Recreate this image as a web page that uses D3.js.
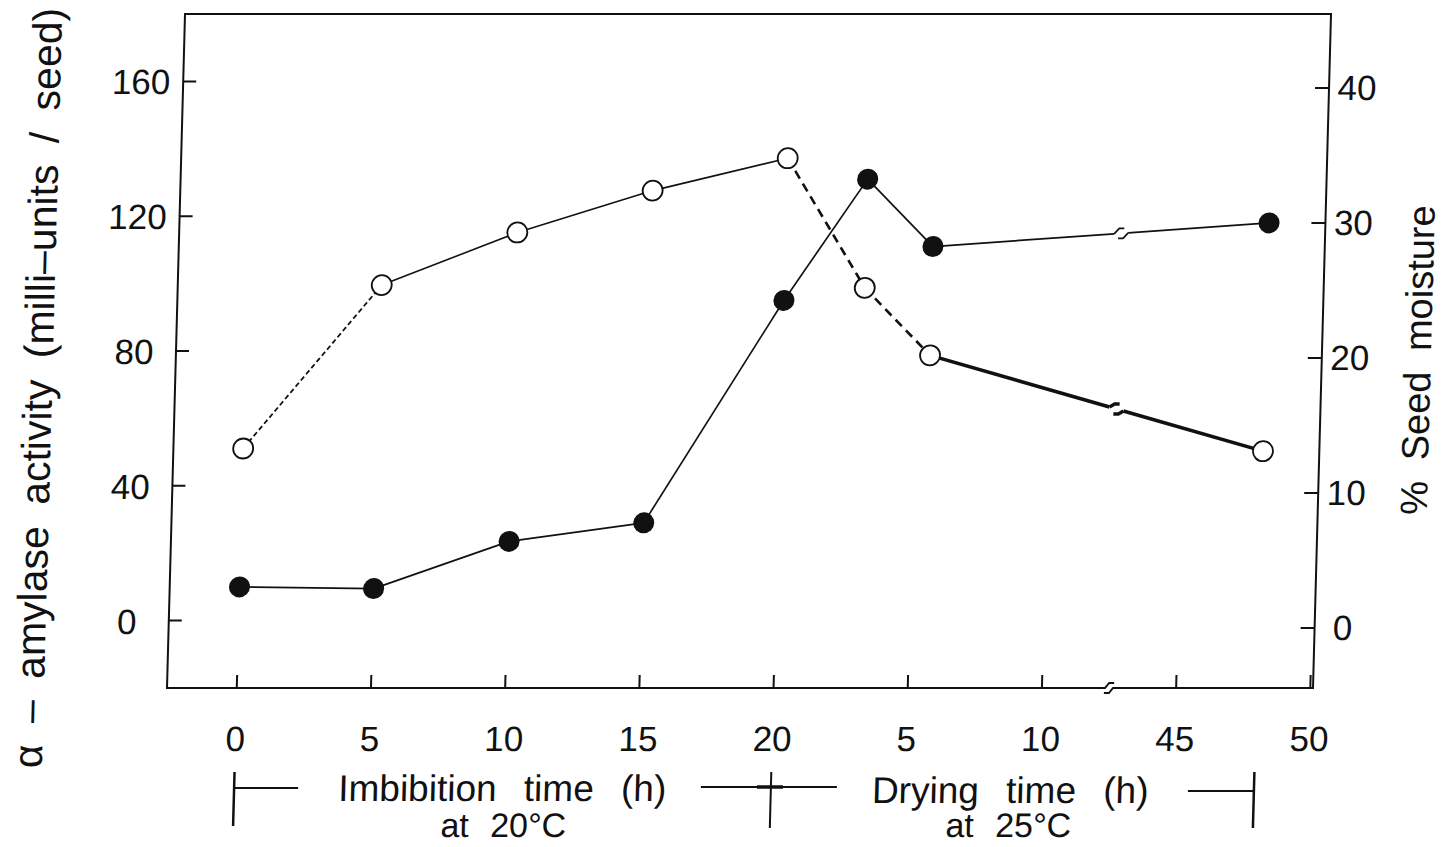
<!DOCTYPE html>
<head>
  <meta charset="utf-8">
  <script src="https://d3js.org/d3.v7.min.js"></script>
  <style>
    body { margin: 0; background: #fff; }
    text { font-family: "Liberation Sans", Arial, sans-serif; fill: #111; }
    .tick-label { font-size: 35px; }
    .title { font-size: 41px; word-spacing: 10px; }
    .rtitle { font-size: 38px; word-spacing: 10px; }
    .sub { font-size: 37px; word-spacing: 17px; }
    .sub2 { font-size: 34px; word-spacing: 12px; }
  </style>
</head>
<body>
  <div id="chart"></div>
  <script>
    // x tick labels: imbibition hours then drying hours (axis broken between 10 and 45)
    var xTickLabels = ["0", "5", "10", "15", "20", "5", "10", "45", "50"];
    var leftTicks = [0, 40, 80, 120, 160];
    var rightTicks = [0, 10, 20, 30, 40];

    // alpha-amylase activity (filled circles, left axis)
    var amylasePhase = ["imb", "imb", "imb", "imb", "imb", "dry", "dry", "dry"];
    var amylaseHours = [0, 5, 10, 15, 20, 3, 5.5, 48];
    var amylaseValues = [10, 9.5, 23.5, 29, 95, 131, 111, 118];

    // seed moisture % (open circles, right axis)
    var moisturePhase = ["imb", "imb", "imb", "imb", "imb", "dry", "dry", "dry"];
    var moistureHours = [0, 5, 10, 15, 20, 3, 5.5, 48];
    var moistureValues = [13.3, 25.4, 29.3, 32.4, 34.8, 25.2, 20.2, 13.1];

    var breakPos = 6.5;

    // hours -> position on the broken axis
    function toPos(phase, h) {
      if (phase == "imb") return h / 5;
      if (h <= 10) return 4 + h / 5;
      return 7 + (h - 45) / 5;
    }

    var W = 1443, H = 847,
        plotL = 167, plotR = 1313, plotT = 14, plotB = 688;

    var x = d3.scaleLinear().domain([-0.52, 8.02]).range([plotL, plotR]);
    var yL = d3.scaleLinear().domain([-20, 180]).range([plotB, plotT]);
    var yR = d3.scaleLinear().domain([-4.44, 45.48]).range([plotB, plotT]);

    var svg = d3.select("#chart").append("svg")
      .attr("width", W)
      .attr("height", H);

    // the scanned figure leans a little to the right
    var g = svg.append("g")
      .attr("transform", "translate(0," + plotB + ") skewX(-1.53) translate(0," + (-plotB) + ")");

    // frame
    g.append("rect")
      .attr("x", plotL).attr("y", plotT)
      .attr("width", plotR - plotL).attr("height", plotB - plotT)
      .attr("fill", "none").attr("stroke", "#111").attr("stroke-width", 2);

    // bottom ticks
    g.selectAll(".xt")
        .data(xTickLabels)
      .enter().append("line")
        .attr("x1", function(d, i) { return x(i); })
        .attr("x2", function(d, i) { return x(i); })
        .attr("y1", plotB).attr("y2", plotB - 13)
        .attr("stroke", "#111").attr("stroke-width", 2);

    g.selectAll(".xl")
        .data(xTickLabels)
      .enter().append("text")
        .attr("class", "tick-label")
        .attr("x", function(d, i) { return x(i); })
        .attr("y", 751)
        .attr("text-anchor", "middle")
        .text(function(d) { return d; });

    // left ticks
    g.selectAll(".lt")
        .data(leftTicks)
      .enter().append("line")
        .attr("x1", plotL).attr("x2", plotL + 13)
        .attr("y1", function(d) { return yL(d); })
        .attr("y2", function(d) { return yL(d); })
        .attr("stroke", "#111").attr("stroke-width", 2);

    g.selectAll(".ll")
        .data(leftTicks)
      .enter().append("text")
        .attr("class", "tick-label")
        .attr("x", 125)
        .attr("y", function(d) { return yL(d) + 13; })
        .attr("text-anchor", "middle")
        .text(function(d) { return d; });

    // right ticks
    g.selectAll(".rt")
        .data(rightTicks)
      .enter().append("line")
        .attr("x1", plotR).attr("x2", plotR - 14)
        .attr("y1", function(d) { return yR(d); })
        .attr("y2", function(d) { return yR(d); })
        .attr("stroke", "#111").attr("stroke-width", 2);

    g.selectAll(".rl")
        .data(rightTicks)
      .enter().append("text")
        .attr("class", "tick-label")
        .attr("x", 1341)
        .attr("y", function(d) { return yR(d) + 12; })
        .attr("text-anchor", "middle")
        .text(function(d) { return d; });

    // axis break on the x axis
    function breakMark(bx, by) {
      g.append("rect")
        .attr("x", bx - 6).attr("y", by - 3)
        .attr("width", 12).attr("height", 6)
        .attr("fill", "#fff");
      g.append("path")
        .attr("d", "M" + (bx - 10) + "," + by + "L" + (bx - 4) + "," + by +
                   "L" + bx + "," + (by - 5) + "L" + (bx + 5) + "," + (by - 5))
        .attr("fill", "none").attr("stroke", "#111").attr("stroke-width", 2);
      g.append("path")
        .attr("d", "M" + (bx - 5) + "," + (by + 5) + "L" + bx + "," + (by + 5) +
                   "L" + (bx + 4) + "," + by + "L" + (bx + 10) + "," + by)
        .attr("fill", "none").attr("stroke", "#111").attr("stroke-width", 2);
    }
    breakMark(x(breakPos), plotB);

    // build point lists
    var amylase = amylaseValues.map(function(v, i) {
      return { px: x(toPos(amylasePhase[i], amylaseHours[i])), py: yL(v) };
    });
    var moisture = moistureValues.map(function(v, i) {
      return { px: x(toPos(moisturePhase[i], moistureHours[i])), py: yR(v) };
    });

    function segment(a, b, width, dash) {
      var bx = x(breakPos);
      if (a.px < bx && b.px > bx) {
        var t = (bx - a.px) / (b.px - a.px),
            by = a.py + t * (b.py - a.py);
        var gap = 7;
        var t1 = (bx - gap - a.px) / (b.px - a.px),
            t2 = (bx + gap - a.px) / (b.px - a.px);
        g.append("line")
          .attr("x1", a.px).attr("y1", a.py)
          .attr("x2", a.px + t1 * (b.px - a.px)).attr("y2", a.py + t1 * (b.py - a.py))
          .attr("stroke", "#111").attr("stroke-width", width);
        g.append("line")
          .attr("x1", a.px + t2 * (b.px - a.px)).attr("y1", a.py + t2 * (b.py - a.py))
          .attr("x2", b.px).attr("y2", b.py)
          .attr("stroke", "#111").attr("stroke-width", width);
        g.append("path")
          .attr("d", "M" + (bx - gap) + "," + (a.py + t1 * (b.py - a.py)) +
                     "L" + (bx - 2) + "," + (by - 5) + "L" + (bx + 3) + "," + (by - 5))
          .attr("fill", "none").attr("stroke", "#111").attr("stroke-width", width);
        g.append("path")
          .attr("d", "M" + (bx - 3) + "," + (by + 5) + "L" + (bx + 2) + "," + (by + 5) +
                     "L" + (bx + gap) + "," + (a.py + t2 * (b.py - a.py)))
          .attr("fill", "none").attr("stroke", "#111").attr("stroke-width", width);
        return;
      }
      g.append("line")
        .attr("x1", a.px).attr("y1", a.py)
        .attr("x2", b.px).attr("y2", b.py)
        .attr("stroke", "#111").attr("stroke-width", width)
        .attr("stroke-dasharray", dash || null);
    }

    // moisture lines: dashed while imbibing starts and while drying, thick at the end
    for (var i = 0; i < moisture.length - 1; i++) {
      if (i == 0) segment(moisture[i], moisture[i + 1], 1.8, "5,3");
      else if (i < 4) segment(moisture[i], moisture[i + 1], 1.6);
      else if (i < 6) segment(moisture[i], moisture[i + 1], 2.6, "9,6");
      else segment(moisture[i], moisture[i + 1], 3.5);
    }
    for (var j = 0; j < amylase.length - 1; j++) {
      segment(amylase[j], amylase[j + 1], 1.7);
    }

    g.selectAll(".open")
        .data(moisture)
      .enter().append("circle")
        .attr("cx", function(d) { return d.px; })
        .attr("cy", function(d) { return d.py; })
        .attr("r", 10)
        .attr("fill", "#fff")
        .attr("stroke", "#111")
        .attr("stroke-width", 1.8);

    g.selectAll(".filled")
        .data(amylase)
      .enter().append("circle")
        .attr("cx", function(d) { return d.px; })
        .attr("cy", function(d) { return d.py; })
        .attr("r", 10.5)
        .attr("fill", "#111");

    // axis titles
    g.append("text")
      .attr("class", "title")
      .attr("transform", "translate(44,388) rotate(-90)")
      .attr("text-anchor", "middle")
      .text("α – amylase activity (milli–units / seed)");

    g.append("text")
      .attr("class", "rtitle")
      .attr("transform", "translate(1422,360) rotate(-90)")
      .attr("text-anchor", "middle")
      .text("% Seed moisture");

    // bottom phase labels
    g.append("text").attr("class", "sub")
      .attr("x", 505).attr("y", 801).attr("text-anchor", "middle")
      .text("Imbibition time (h)");
    g.append("text").attr("class", "sub2")
      .attr("x", 507).attr("y", 837).attr("text-anchor", "middle")
      .text("at 20°C");
    g.append("text").attr("class", "sub")
      .attr("x", 1013).attr("y", 803).attr("text-anchor", "middle")
      .text("Drying time (h)");
    g.append("text").attr("class", "sub2")
      .attr("x", 1012).attr("y", 837).attr("text-anchor", "middle")
      .text("at 25°C");

    // brackets showing the two phases
    function line(x1, y1, x2, y2, w) {
      g.append("line")
        .attr("x1", x1).attr("y1", y1).attr("x2", x2).attr("y2", y2)
        .attr("stroke", "#111").attr("stroke-width", w || 2);
    }
    line(x(0), 772, x(0), 826, 2.5);
    line(x(0), 788, x(0) + 64, 788);
    line(x(4) - 70, 787, x(4) + 66, 787);
    line(x(4) - 14, 787, x(4) + 12, 787, 3.5);
    line(x(4), 772, x(4), 828, 2);
    line(x(7.6) - 66, 791, x(7.6), 791);
    line(x(7.6), 772, x(7.6), 828, 2.5);
  </script>
</body>
